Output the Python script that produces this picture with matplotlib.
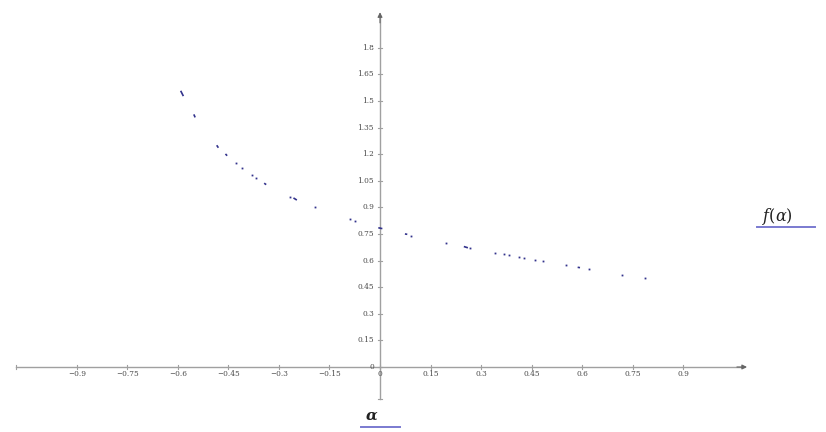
import matplotlib
matplotlib.use("Agg")
import matplotlib.pyplot as plt

plt.rcParams["mathtext.fontset"] = "dejavuserif"

# ---- data ----
# short curve fragments: start/end alpha and f values
seg_a0 = [-0.592, -0.553, -0.485, -0.459, -0.344, -0.257, -0.005, 0.074, 0.249, 0.587]
seg_a1 = [-0.584, -0.549, -0.480, -0.454, -0.338, -0.247, 0.007, 0.081, 0.261, 0.594]
seg_f0 = [1.557, 1.424, 1.250, 1.201, 1.036, 0.953, 0.785, 0.750, 0.679, 0.562]
seg_f1 = [1.527, 1.407, 1.236, 1.191, 1.028, 0.941, 0.780, 0.748, 0.672, 0.560]
# isolated dots
dot_a = [-0.427, -0.411, -0.380, -0.367, -0.266, -0.194, -0.089, -0.074, 0.092,
         0.195, 0.268, 0.342, 0.369, 0.382, 0.412, 0.429, 0.459, 0.484, 0.553,
         0.621, 0.720, 0.786]
dot_f = [1.148, 1.122, 1.081, 1.064, 0.960, 0.900, 0.833, 0.823, 0.740,
         0.699, 0.669, 0.644, 0.635, 0.630, 0.618, 0.613, 0.605, 0.598, 0.573,
         0.552, 0.519, 0.500]

x_ticks = [-0.9, -0.75, -0.6, -0.45, -0.3, -0.15, 0, 0.15, 0.3, 0.45, 0.6, 0.75, 0.9]
x_tick_labels = ["−0.9", "−0.75", "−0.6", "−0.45", "−0.3", "−0.15", "0",
                 "0.15", "0.3", "0.45", "0.6", "0.75", "0.9"]
y_ticks = [0, 0.15, 0.3, 0.45, 0.6, 0.75, 0.9, 1.05, 1.2, 1.35, 1.5, 1.65, 1.8]
y_tick_labels = ["0", "0.15", "0.3", "0.45", "0.6", "0.75", "0.9", "1.05",
                 "1.2", "1.35", "1.5", "1.65", "1.8"]
x_axis_range = (-1.08, 1.08)
y_axis_range = (-0.18, 1.98)

# ---- figure ----
fig = plt.figure(figsize=(8.26, 4.32), dpi=100)
ax = fig.add_axes([0, 0, 1, 1])
ax.set_xlim(-1.1286, 1.3246)
ax.set_ylim(-0.3664, 2.0688)
ax.axis("off")

axis_col = "#a0a0a0"
text_col = "#4a4a4a"
data_col = "#32328c"
ul_col = "#7a7ad0"

# axes lines
ax.plot(x_axis_range, [0, 0], color=axis_col, lw=1.0, zorder=1)
ax.plot([0, 0], y_axis_range, color=axis_col, lw=1.0, zorder=1)
# arrows
ax.annotate("", xy=(x_axis_range[1] + 0.01, 0), xytext=(x_axis_range[1] - 0.02, 0),
            arrowprops=dict(arrowstyle="-|>", color="#666666", lw=0.8,
                            mutation_scale=7, shrinkA=0, shrinkB=0))
ax.annotate("", xy=(0, y_axis_range[1] + 0.02), xytext=(0, y_axis_range[1] - 0.04),
            arrowprops=dict(arrowstyle="-|>", color="#666666", lw=0.8,
                            mutation_scale=7, shrinkA=0, shrinkB=0))
# end caps
ax.plot([x_axis_range[0]] * 2, [-0.012, 0.012], color=axis_col, lw=0.8)
ax.plot([-0.006, 0.006], [y_axis_range[0]] * 2, color=axis_col, lw=0.8)

# ticks & labels
tick_font = dict(family="DejaVu Serif", size=5.3, color=text_col)
for xv, lab in zip(x_ticks, x_tick_labels):
    ax.plot([xv, xv], [-0.012, 0.012], color=axis_col, lw=0.8)
    ax.text(xv, -0.042, lab, ha="center", va="center", **tick_font)
for yv, lab in zip(y_ticks, y_tick_labels):
    ax.plot([-0.006, 0.006], [yv, yv], color=axis_col, lw=0.8)
    ax.text(-0.018, yv, lab, ha="right", va="center", **tick_font)

# data fragments
for a0, a1, f0, f1 in zip(seg_a0, seg_a1, seg_f0, seg_f1):
    ax.plot([a0, a1], [f0, f1], color=data_col, lw=1.2, solid_capstyle="butt", zorder=3)
ax.plot(dot_a, dot_f, linestyle="none", marker="s", markersize=1.3,
        color=data_col, markeredgewidth=0, zorder=3)

# axis labels with underline
ax.text(1.1345, 0.85, r"$f(\alpha)$", size=11.5, color="#222222",
        ha="left", va="center")
ax.plot([1.1186, 1.2908], [0.790, 0.790], color=ul_col, lw=1.4)
ax.text(-0.0416, -0.276, r"$\boldsymbol{\alpha}$" if False else "α",
        family="DejaVu Serif", style="italic", weight="bold",
        size=11, color="#222222", ha="left", va="center")
ax.plot([-0.0564, 0.0594], [-0.338, -0.338], color=ul_col, lw=1.4)

fig.savefig("out.png", dpi=100)
